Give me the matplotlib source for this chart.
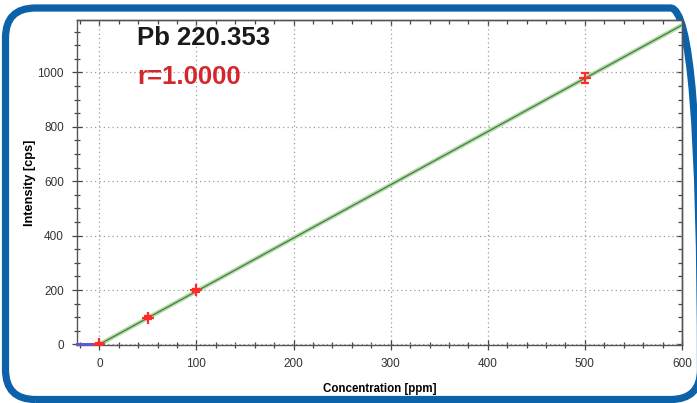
"""Calibration curve for Pb 220.353 with a rounded blue frame."""

import matplotlib.pyplot as plt
from matplotlib.patches import FancyBboxPatch
from matplotlib.ticker import MultipleLocator, NullFormatter

# calibration standards
conc = [0, 50, 100, 500]
intensity = [2, 99, 199, 980]
err = [4, 5, 6, 18]

# fitted line end points
fit_x = [0, 600]
fit_y = [0, 1174]

# blank segment left of zero
blank_x = [-23, 0]
blank_y = [0, 0]

title = "Pb 220.353"
r_text = "r=1.0000"

plt.rcParams["font.family"] = ["Liberation Sans", "DejaVu Sans"]

fig = plt.figure(figsize=(6.97, 4.03), dpi=100)
ax = fig.add_axes([0.1105, 0.1439, 0.868, 0.806])

ax.plot(fit_x, fit_y, color="#b5dfa8", lw=3.2, solid_capstyle="butt", zorder=3)
ax.plot(fit_x, fit_y, color="#4f7f4f", lw=1.0, zorder=4)
ax.plot(blank_x, blank_y, color="#5a5acd", lw=2.2, zorder=4, clip_on=False)
ax.errorbar(conc, intensity, yerr=err, fmt="+", color="#ff2a2a", ms=8, mew=1.6,
            elinewidth=1.2, capsize=3, zorder=5)

ax.set_xlim(-23, 600)
ax.set_ylim(-2, 1192)


def set_locators(axis, major, minor):
    axis.set_major_locator(MultipleLocator(major))
    axis.set_minor_locator(MultipleLocator(minor))


set_locators(ax.xaxis, 100, 20)
set_locators(ax.yaxis, 200, 50)

ax.grid(True, which="major", ls=(0, (1, 2.5)), color="#9a9a9a", lw=0.9)
ax.tick_params(which="both", direction="inout", color="#444444", width=0.9,
               labelsize=8.5, labelcolor="#333333")
ax.tick_params(which="major", length=7, pad=6)
ax.tick_params(which="minor", length=4)
for s in ax.spines.values():
    s.set_color("#555555")
    s.set_linewidth(1.0)

# inward ticks on the top and right spines
top = ax.secondary_xaxis("top")
right = ax.secondary_yaxis("right")
set_locators(top.xaxis, 100, 20)
set_locators(right.yaxis, 200, 50)
for sec in (top, right):
    sec.tick_params(which="both", direction="in", color="#444444", width=0.9)
    sec.tick_params(which="major", length=4)
    sec.tick_params(which="minor", length=3)
    for s in sec.spines.values():
        s.set_color("#555555")
        s.set_linewidth(1.0)
top.xaxis.set_major_formatter(NullFormatter())
right.yaxis.set_major_formatter(NullFormatter())

ax.set_xlabel("Concentration [ppm]", fontsize=8.3, fontweight="bold", labelpad=9)
ax.set_ylabel("Intensity [cps]", fontsize=9.2, fontweight="bold", labelpad=1)

ax.text(0.099, 0.923, title, transform=ax.transAxes, fontsize=18.5,
        fontweight="bold", color="#1a1a1a", va="baseline")
ax.text(0.099, 0.804, r_text, transform=ax.transAxes, fontsize=18.5,
        fontweight="bold", color="#d4262e", va="baseline")

# rounded blue frame, drawn in inches so the corners stay round;
# its right edge runs just past the image border
frame = FancyBboxPatch((0.055, 0.035), 6.95, 3.915,
                       boxstyle="round,pad=0,rounding_size=0.3",
                       transform=fig.dpi_scale_trans, fill=False,
                       edgecolor="#0b62a8", lw=5.2, zorder=-1)
fig.patches.append(frame)

fig.savefig("out.png", dpi=100)
